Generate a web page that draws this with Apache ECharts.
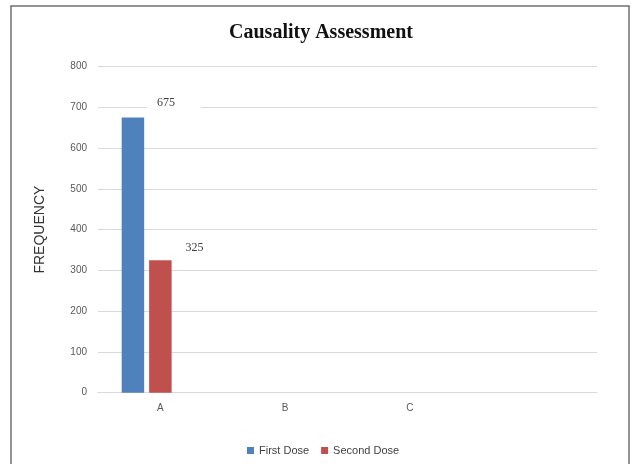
<!DOCTYPE html>
<html><head><meta charset="utf-8">
<script src="https://cdn.jsdelivr.net/npm/echarts@6/dist/echarts.min.js"></script>
<style>html,body{margin:0;padding:0;background:#fff}#c{width:633px;height:464px}</style>
</head><body><div id="c"></div>
<script>
const categories = ['A', 'B', 'C', ''];
const firstDose = [675, null, null, null];
const secondDose = [325, null, null, null];
const thirdEmpty = [null, null, null, null];
const yTicks = {min: 0, max: 800, interval: 100};

const chart = echarts.init(document.getElementById('c'), null, {renderer: 'canvas'});
chart.setOption({
  backgroundColor: '#fff',
  animation: false,
  title: {
    text: 'Causality Assessment', left: 316, textAlign: 'center', top: 18,
    textStyle: {fontFamily: 'Liberation Serif', fontStyle: 'normal', fontWeight: 'bold', fontSize: 20, color: '#111'}
  },
  graphic: [{
    type: 'rect', shape: {x: 11, y: 6, width: 618, height: 480},
    style: {fill: 'none', stroke: '#6f6f6f', lineWidth: 1.5}, z: -1
  }],
  legend: {
    data: ['First Dose', 'Second Dose'], left: 242, top: 440,
    itemWidth: 7, itemHeight: 7, itemGap: 12, icon: 'rect',
    textStyle: {fontFamily: 'Liberation Sans', fontSize: 11, color: '#404040'}
  },
  grid: {left: 98, right: 36, top: 66.5, bottom: 71.3},
  xAxis: {
    type: 'category', data: categories,
    axisTick: {show: false},
    axisLine: {lineStyle: {color: '#d9d9d9', width: 1}},
    axisLabel: {fontFamily: 'Liberation Sans', fontSize: 10, color: '#595959', margin: 11}
  },
  yAxis: {
    type: 'value', min: yTicks.min, max: yTicks.max, interval: yTicks.interval,
    name: 'FREQUENCY', nameLocation: 'middle', nameGap: 51,
    nameTextStyle: {fontFamily: 'Liberation Sans', fontSize: 14, color: '#333'},
    axisLine: {show: false}, axisTick: {show: false},
    axisLabel: {fontFamily: 'Liberation Sans', fontSize: 10, color: '#595959', margin: 11},
    splitLine: {lineStyle: {color: '#d9d9d9', width: 1}}
  },
  series: [
    {
      name: 'First Dose', type: 'bar', data: firstDose, barWidth: 22.5, barGap: '22%',
      itemStyle: {color: '#4f81bd'},
      label: {show: true, position: 'top', offset: [41, -2], backgroundColor: '#fff',
        padding: [2, 26, 2, 10],
        fontFamily: 'Liberation Serif', fontSize: 12, color: '#404040'}
    },
    {
      name: 'Second Dose', type: 'bar', data: secondDose, barWidth: 22.5, barGap: '22%',
      itemStyle: {color: '#c0504d'},
      label: {show: true, position: 'top', offset: [34, -1],
        fontFamily: 'Liberation Serif', fontSize: 12, color: '#404040'}
    },
    {
      name: 'Series 3', type: 'bar', data: thirdEmpty, barWidth: 22.5, barGap: '22%',
      itemStyle: {color: '#9bbb59'}
    }
  ]
});
</script></body></html>
